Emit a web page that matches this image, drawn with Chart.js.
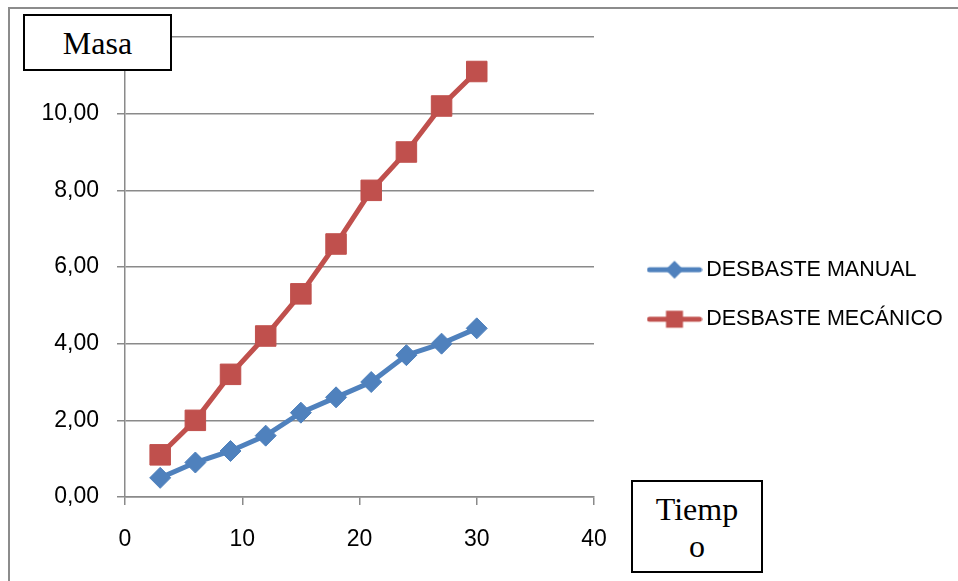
<!DOCTYPE html>
<html>
<head>
<meta charset="utf-8">
<script src="https://cdn.jsdelivr.net/npm/chart.js@4/dist/chart.umd.min.js"></script>
<style>
  html, body { margin: 0; padding: 0; background: #fff; }
  #wrap { position: relative; width: 958px; height: 581px; overflow: hidden; }
  #c { position: absolute; left: 0; top: 0; }
  #frame { position: absolute; left: 8px; top: 7px; width: 960px; height: 600px;
           border-top: 2px solid #8c8c8c; border-left: 2px solid #8c8c8c; }
  .box { position: absolute; box-sizing: border-box; background: #fff; border: 2px solid #000;
         font-family: "Liberation Serif", "Times New Roman", serif; font-size: 32px; line-height: 37px;
         color: #000; text-align: center; }
  #masa { left: 23px; top: 14px; width: 149px; height: 57px; padding-top: 9px; }
  #tiempo { left: 631px; top: 480px; width: 132px; height: 93px; padding: 9px 20px 0 20px; word-break: break-all; }
</style>
</head>
<body>
<div id="wrap">
  <div id="frame"></div>
  <canvas id="c" width="958" height="581"></canvas>
  <div class="box" id="masa">Masa</div>
  <div class="box" id="tiempo">Tiempo</div>
</div>
<script>
// ---- data ----
const TIEMPO = [3, 6, 9, 12, 15, 18, 21, 24, 27, 30];
const DESBASTE_MANUAL = [0.5, 0.9, 1.2, 1.6, 2.2, 2.6, 3.0, 3.7, 4.0, 4.4];
const DESBASTE_MECANICO = [1.1, 2.0, 3.2, 4.2, 5.3, 6.6, 8.0, 9.0, 10.2, 11.1];
const SERIES_NAMES = ['DESBASTE MANUAL', 'DESBASTE MECÁNICO'];
const X_TICKS = [0, 10, 20, 30, 40];
const Y_TICKS = [0, 2, 4, 6, 8, 10, 12];

const BLUE = '#4F81BD';
const RED = '#C0504D';
const GRID = '#8a8a8a';

function pts(ys) { return TIEMPO.map((x, i) => ({ x: x, y: ys[i] })); }

function makeIcon(color, kind) {
  const cv = document.createElement('canvas');
  cv.width = 56; cv.height = 22;
  const g = cv.getContext('2d');
  g.strokeStyle = color; g.lineWidth = 5; g.lineCap = 'round';
  g.beginPath(); g.moveTo(3, 11); g.lineTo(53, 11); g.stroke();
  g.fillStyle = color;
  g.beginPath();
  if (kind === 'diamond') {
    g.moveTo(28, 2); g.lineTo(37, 11); g.lineTo(28, 20); g.lineTo(19, 11); g.closePath();
  } else {
    g.rect(19.5, 2.5, 17, 17);
  }
  g.fill();
  return cv;
}
const ICONS = [makeIcon(BLUE, 'diamond'), makeIcon(RED, 'square')];

const PLOT_LEFT = 125, PLOT_RIGHT = 594, PLOT_TOP = 37, PLOT_BOTTOM = 497;
const PAD_LEFT = 10;
const LEGEND_LEFT = 625.5;

const layoutPlugin = {
  id: 'layoutFix',
  beforeLayout(chart) {
    const lg = chart.legend;
    if (lg && !lg._patched) {
      const orig = lg.fit;
      lg.fit = function () { orig.call(this); this.width = chart.width - PLOT_RIGHT; };
      lg._patched = true;
    }
  },
  afterLayout(chart) {
    const lg = chart.legend;
    if (!lg) return;
    const w = lg.width;
    lg.left = LEGEND_LEFT; lg.right = LEGEND_LEFT + w;
    lg.top = 0; lg.bottom = 589; lg.height = 589;
  }
};

new Chart(document.getElementById('c'), {
  type: 'line',
  data: {
    datasets: [
      {
        label: SERIES_NAMES[0], data: pts(DESBASTE_MANUAL),
        borderColor: BLUE, backgroundColor: BLUE, borderWidth: 5,
        pointStyle: 'rectRot', pointRadius: 10.5, pointBorderWidth: 1,
        pointBackgroundColor: BLUE, pointBorderColor: BLUE, tension: 0
      },
      {
        label: SERIES_NAMES[1], data: pts(DESBASTE_MECANICO),
        borderColor: RED, backgroundColor: RED, borderWidth: 5,
        pointStyle: 'rect', pointRadius: 14.5, pointBorderWidth: 1,
        pointBackgroundColor: RED, pointBorderColor: RED, tension: 0
      }
    ]
  },
  options: {
    responsive: false,
    animation: false,
    devicePixelRatio: 1,
    layout: { padding: { left: PAD_LEFT, top: PLOT_TOP, right: 0, bottom: 0 } },
    plugins: {
      tooltip: { enabled: false },
      legend: {
        position: 'right',
        labels: {
          usePointStyle: true,
          pointStyleWidth: 42,
          padding: 28,
          color: '#000',
          font: { family: '"Liberation Sans", Arial, sans-serif', size: 21.5 },
          generateLabels: (chart) => chart.data.datasets.map((ds, i) => ({
            text: ds.label, pointStyle: ICONS[i], fillStyle: ds.borderColor,
            strokeStyle: ds.borderColor, lineWidth: 0, hidden: false, datasetIndex: i, fontColor: '#000'
          }))
        }
      }
    },
    scales: {
      x: {
        type: 'linear', min: X_TICKS[0], max: X_TICKS[X_TICKS.length - 1],
        afterBuildTicks: (s) => { s.ticks = X_TICKS.map(v => ({ value: v })); },
        afterFit: (s) => { s.height = 581 - PLOT_BOTTOM; },
        grid: { drawOnChartArea: false, drawTicks: true, tickLength: 8, color: GRID, lineWidth: 1.5 },
        border: { display: true, color: GRID, width: 1.5 },
        ticks: { color: '#000', padding: 21, maxRotation: 0,
                 font: { family: '"Liberation Sans", Arial, sans-serif', size: 23 } }
      },
      y: {
        type: 'linear', min: Y_TICKS[0], max: Y_TICKS[Y_TICKS.length - 1],
        afterBuildTicks: (s) => { s.ticks = Y_TICKS.map(v => ({ value: v })); },
        afterFit: (s) => { s.width = PLOT_LEFT - PAD_LEFT; },
        grid: { drawOnChartArea: true, drawTicks: true, tickLength: 8, color: GRID, lineWidth: 1.5 },
        border: { display: true, color: GRID, width: 1.5 },
        ticks: { color: '#000', padding: 18,
                 font: { family: '"Liberation Sans", Arial, sans-serif', size: 23 },
                 callback: (v) => Number(v).toFixed(2).replace('.', ',') }
      }
    }
  },
  plugins: [layoutPlugin]
});
</script>
</body>
</html>
